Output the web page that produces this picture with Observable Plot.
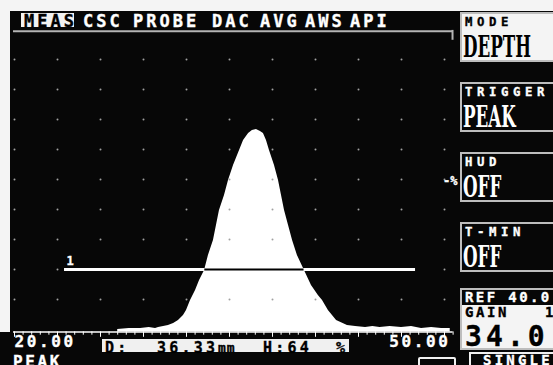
<!DOCTYPE html>
<html>
<head>
<meta charset="utf-8">
<script src="https://cdn.jsdelivr.net/npm/d3@7"></script>
<script src="https://cdn.jsdelivr.net/npm/@observablehq/plot@0.6"></script>
<style>
  html, body { margin:0; padding:0; background:#000; }
  #screen { position:relative; width:553px; height:365px; overflow:hidden; background:#070707; }
  #screen > * { position:absolute; }
  .t { white-space:nowrap; font-family:"DejaVu Sans Mono", monospace; font-weight:bold; -webkit-text-stroke:0.35px currentColor; }
  .big { white-space:nowrap; font-family:"DejaVu Serif", serif; font-weight:bold; transform-origin:0 0; }
</style>
</head>
<body>
<div id="screen"></div>
<script>
// ---------------- data ----------------
const menuItems = ["MEAS", "CSC", "PROBE", "DAC", "AVG", "AWS", "API"];
const activeMenu = "MEAS";
const panelLabels = ["MODE", "TRIGGER", "HUD", "T-MIN"];
const panelValues = ["DEPTH", "PEAK", "OFF", "OFF"];
const xDomain = [20, 50];            // mm shown across the screen
const xTickLabels = [20, 50];
const gridX = [20, 23, 26, 29, 32, 35, 38, 41, 44, 47, 50];
const gridY = [10, 20, 30, 40, 50, 60, 70, 80, 90];
const waveMm = [27.2, 28.0, 28.8, 29.4, 29.84, 30.05, 30.4, 30.74, 31.1, 31.44, 31.79, 32.0, 32.28, 32.63, 32.91, 33.26, 33.53, 33.88, 34.09, 34.3, 34.65, 34.93, 35.28, 35.7, 35.98, 36.33, 36.6, 36.88, 37.16, 37.37, 37.58, 37.79, 38.14, 38.42, 38.63, 38.84, 39.12, 39.4, 39.74, 40.23, 40.72, 41.2, 41.49, 41.9, 42.47, 43.23, 43.8, 44.49, 45.0, 45.5, 46.2, 47.0, 47.7, 48.4, 49.1, 49.8, 50.4];
const waveAmp = [0, 0.3, 0.3, 0.7, 0.3, 0.7, 1.0, 1.3, 2.0, 3.0, 4.7, 6.3, 9.7, 13.0, 16.3, 19.7, 24.7, 29.7, 34.7, 39.7, 44.7, 49.7, 54.7, 59.7, 63.0, 65.3, 66.3, 66.7, 66.0, 65.3, 63.0, 59.7, 54.7, 49.7, 44.7, 39.7, 34.7, 29.7, 24.7, 19.7, 14.7, 11.3, 9.7, 6.3, 3.0, 1.3, 1.0, 0.7, 1.0, 0.7, 1.0, 0.7, 1.0, 0.3, 0.7, 0.3, 0.3];
const gateName = "1";
const gateStart = 23.49, gateEnd = 47.98, gateLevel = 20;
const depthReading = 36.33, heightReading = 64;
const refLabel = "REF 40.0", gainLabel = "GAIN", gainStep = "1", gainValue = "34.0";
const footerLeft = "PEAK", footerRight = "SINGLE";
const rulerTicks = d3.range(0, 52).map(i => 20 + i * 0.6);

// ---------------- chart ----------------
const MONO = "'DejaVu Sans Mono', monospace";
const RULER = -0.8;
const wave = waveMm.map((mm, i) => ({mm, amp: waveAmp[i]}));
const grid = gridX.flatMap(x => gridY.map(y => ({x, y})));
let crossL, crossR;
for (let i = 1; i < wave.length; i++) {
  const a = wave[i - 1], b = wave[i];
  if (crossL === undefined && a.amp < gateLevel && b.amp >= gateLevel)
    crossL = a.mm + (gateLevel - a.amp) / (b.amp - a.amp) * (b.mm - a.mm);
  if (a.amp >= gateLevel && b.amp < gateLevel)
    crossR = a.mm + (a.amp - gateLevel) / (a.amp - b.amp) * (b.mm - a.mm);
}

const chart = Plot.plot({
  width: 553, height: 365,
  marginLeft: 14, marginRight: 109, marginTop: 29, marginBottom: 36,
  x: {domain: xDomain, axis: null},
  y: {domain: [0, 100], axis: null},
  style: {background: "transparent", overflow: "visible"},
  marks: [
    Plot.ruleY([99.4], {x1: 19.93, x2: 50.56, stroke: "#b4b4b4", strokeWidth: 2}),
    Plot.ruleX([50.56], {y1: 99.7, y2: 96.4, stroke: "#b4b4b4", strokeWidth: 2}),
    Plot.areaY(wave, {x: "mm", y1: RULER, y2: "amp", fill: "white"}),
    Plot.dot(grid, {x: "x", y: "y", r: 1, fill: "#a0a0a0"}),
    Plot.ruleY([gateLevel], {x1: gateStart, x2: gateEnd, stroke: "white", strokeWidth: 3}),
    Plot.ruleY([gateLevel], {x1: crossL, x2: crossR, stroke: "black", strokeWidth: 2}),
    Plot.text([gateName], {x: gateStart, y: gateLevel, dx: 2, dy: -8, textAnchor: "start", fill: "white", fontSize: 12, fontWeight: "bold", fontFamily: MONO}),
    Plot.ruleY([RULER], {x1: 19.93, x2: 50.6, stroke: "white", strokeWidth: 1.5}),
    Plot.ruleX(rulerTicks, {x: d => d, y1: RULER, y2: (d, i) => i % 5 === 0 ? -2.6 : -1.9, stroke: "white", strokeWidth: 1}),
    Plot.text([xTickLabels[0]], {x: d => d, frameAnchor: "bottom", dy: 17, text: d => d3.format(".2f")(d), textAnchor: "start", fill: "white", fontSize: 16, fontWeight: "bold", fontFamily: MONO}),
    Plot.text([xTickLabels[1]], {x: d => d, frameAnchor: "bottom", dy: 17, dx: 6, text: d => d3.format(".2f")(d), textAnchor: "end", fill: "white", fontSize: 16, fontWeight: "bold", fontFamily: MONO})
  ]
});
chart.querySelectorAll("text").forEach(t => {
  t.setAttribute("letter-spacing", "2.6");
  t.setAttribute("stroke", "white"); t.setAttribute("stroke-width", "0.35");
});
chart.style.left = "0px"; chart.style.top = "0px";

// ---------------- screen chrome ----------------
const screen = document.getElementById("screen");
const ctx = document.createElement("canvas").getContext("2d");
const FAM = {t: "'DejaVu Sans Mono', monospace", big: "'DejaVu Serif', serif"};
function div(style, text, cls) {
  const e = document.createElement("div");
  if (cls) e.className = cls;
  Object.assign(e.style, style);
  if (text != null) e.textContent = text;
  screen.appendChild(e);
  return e;
}
// place a text so that its capital letters start at capTop (measured with canvas metrics)
function txt(text, x, capTop, size, color, spacing, cls = "t") {
  ctx.font = `bold ${size}px ${FAM[cls]}`;
  const m = ctx.measureText("H");
  const capH = m.actualBoundingBoxAscent;
  const fA = m.fontBoundingBoxAscent, fD = m.fontBoundingBoxDescent;
  const L = Math.round(capH + 2);
  const top = capTop + capH - L / 2 - (fA - fD) / 2;
  return div({left: x + "px", top: top + "px", fontSize: size + "px",
    lineHeight: L + "px", height: L + "px", color, letterSpacing: spacing + "px"}, text, cls);
}
function capSize(cap, cls) {
  ctx.font = `bold 100px ${FAM[cls]}`;
  return 100 * cap / ctx.measureText("H").actualBoundingBoxAscent;
}

screen.appendChild(chart);
div({left: "0px", top: "0px", width: "553px", height: "11px", background: "#f4f4f4"});
div({left: "0px", top: "0px", width: "10px", height: "332px", background: "#f4f4f4"});

// menu
const menuX = [24, 83, 133, 212, 260, 305, 350];
menuItems.forEach((m, i) => {
  if (m === activeMenu) div({left: "21px", top: "13px", width: "53px", height: "14px", background: "#f2f2f2"});
  txt(m, menuX[i], 14, 17, m === activeMenu ? "#000" : "#fff", 3);
});

// right panel
const boxTops = [12, 82, 152, 222];
const bigSize = capSize(22, "big");
const labSize = capSize(9, "t");
const bigEls = [];
panelLabels.forEach((lab, i) => {
  const top = boxTops[i], filled = i === 0;
  div({left: "460px", top: top + "px", width: "110px", height: "46px",
       background: filled ? "#f4f4f4" : "#070707", border: "2px solid #bdbdbd"});
  txt(lab, 465, top + 5, labSize, filled ? "#000" : "#fff", 4.6);
  bigEls.push(txt(panelValues[i], 463, top + 23, bigSize, filled ? "#000" : "#fff", 0, "big"));
});
const w0 = bigEls[0].getBoundingClientRect().width;
const k = 68 / w0;
bigEls.forEach(e => e.style.transform = `scaleX(${k})`);
txt("-%", 443, 176, 12, "#fff", 0);

// REF / gain box
div({left: "460px", top: "288px", width: "110px", height: "58px", background: "#f4f4f4", border: "2px solid #bdbdbd"});
div({left: "462px", top: "290px", width: "110px", height: "15px", background: "#070707"});
txt(refLabel, 465, 292, 14, "#fff", 2.4);
txt(gainLabel, 465, 307, 14, "#000", 2.6);
txt(gainStep, 545, 307, 14, "#000", 0);
txt(gainValue, 465, 325, 28, "#000", 4.1);

// readout bar
div({left: "102px", top: "339px", width: "245px", height: "11px", border: "1.5px solid #f0f0f0", background: "#f0f0f0"});
txt("D:", 105, 341, 15, "#000", 3.2);
txt(depthReading.toFixed(2), 157, 341, 15, "#000", 3.2);
txt("mm", 218, 343, 13, "#000", 1);
txt("H:" + heightReading, 263, 341, 15, "#000", 3.2);
txt("%", 336, 341, 15, "#000", 0);

// footer
txt(footerLeft, 13, 355, 16, "#fff", 2.6);
div({left: "418px", top: "357px", width: "34px", height: "12px", border: "2px solid #f0f0f0", borderRadius: "2px"});
div({left: "469px", top: "352px", width: "100px", height: "20px", borderLeft: "2px solid #f0f0f0", borderTop: "2px solid #f0f0f0"});
txt(footerRight, 483, 355, 14, "#fff", 3.2);
</script>
</body>
</html>
